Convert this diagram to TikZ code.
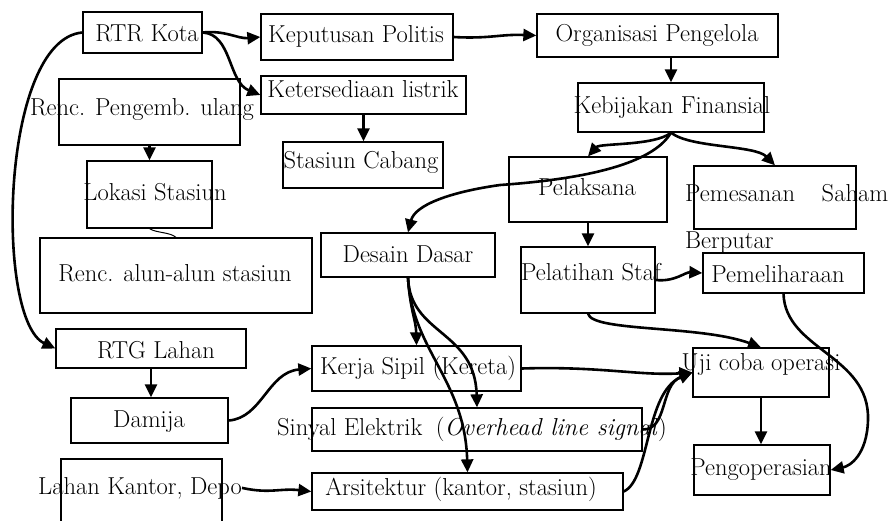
\documentclass[tikz,border=0pt]{standalone}
\usetikzlibrary{arrows.meta,fit}
\begin{document}
\begin{tikzpicture}[x=1pt,y=-1pt,
  box/.style={draw, line width=1.3pt, inner sep=0pt},
  txt/.style={inner sep=0pt, anchor=base, font=\fontsize{24.5}{29}\selectfont},
  arr/.style={line width=2.6pt, -{Triangle[length=13pt,width=12pt]}},
  link/.style={line width=1pt}]
\useasboundingbox (0,0) rectangle (888,520);
\clip (0,0) rectangle (888,520);

% boxes
\node[box, fit={(83,12) (202,53)}] (rtr) {};
\node[box, fit={(261,14) (453,60)}] (kep) {};
\node[box, fit={(537,14) (778,57)}] (org) {};
\node[box, fit={(261,76) (466,114)}] (ket) {};
\node[box, fit={(59,79) (240,145)}] (renc) {};
\node[box, fit={(283,142) (443,188)}] (cab) {};
\node[box, fit={(87,161) (212,228)}] (lok) {};
\node[box, fit={(40,238) (312,313)}] (alun) {};
\node[box, fit={(56,329) (246,368)}] (rtg) {};
\node[box, fit={(71,398) (228,443)}] (dam) {};
\node[box, fit={(61,459) (222,540)}] (lk) {};
\node[box, fit={(578,83) (764,132)}] (keb) {};
\node[box, fit={(509,157) (667,222)}] (pel) {};
\node[box, fit={(694,166) (856,229)}] (sah) {};
\node[box, fit={(321,233) (495,277)}] (ds) {};
\node[box, fit={(521,247) (655,313)}] (stf) {};
\node[box, fit={(703,253) (864,293)}] (pml) {};
\node[box, fit={(312,346) (521,391)}] (ks) {};
\node[box, fit={(312,408) (642,451)}] (sin) {};
\node[box, fit={(312,473) (623,510)}] (ars) {};
\node[box, fit={(693,348) (829,397)}] (uji) {};
\node[box, fit={(694,445) (830,495)}] (ops) {};

% labels (positioned by baseline)
\node[txt] (rtr-t) at (147,41) {RTR Kota};
\node[txt] (kep-t) at (356,42) {Keputusan Politis};
\node[txt] (org-t) at (657,41) {Organisasi Pengelola};
\node[txt] (ket-t) at (363,97) {Ketersediaan listrik};
\node[txt] (renc-t) at (142,115) {Renc. Pengemb. ulang};
\node[txt] (cab-t) at (361,168) {Stasiun Cabang};
\node[txt] (lok-t) at (155,200) {Lokasi Stasiun};
\node[txt] (alun-t) at (175,281) {Renc. alun-alun stasiun};
\node[txt] (rtg-t) at (156,358) {RTG Lahan};
\node[txt] (dam-t) at (149,427) {Damija};
\node[txt] (lk-t) at (140,494) {Lahan Kantor, Depo};
\node[txt] (keb-t) at (672,113) {Kebijakan Finansial};
\node[txt] (pel-t) at (587,195) {Pelaksana};
\node[txt, anchor=base west] (sah-t1) at (685,201) {\makebox[203pt][s]{Pemesanan Saham}};
\node[txt, anchor=base west] (sah-t2) at (685,248) {Berputar};
\node[txt] (ds-t) at (408,262) {Desain Dasar};
\node[txt] (stf-t) at (591,280) {Pelatihan Staf};
\node[txt] (pml-t) at (778,282) {Pemeliharaan};
\node[txt] (ks-t) at (418,374) {Kerja Sipil (Kereta)};
\node[txt] (sin-t) at (472,435) {Sinyal Elektrik\hspace{0.55em}(\textit{Overhead line signal})};
\node[txt] (ars-t) at (461,495) {Arsitektur (kantor, stasiun)};
\node[txt] (uji-t) at (761,370) {Uji coba operasi};
\node[txt] (ops-t) at (761,475) {Pengoperasian};

% connectors
\draw[arr] (rtr.east) .. controls (225,30) and (238,39) .. (kep.west);
\draw[arr] (rtr.east) .. controls (232,34) and (228,82) .. (ket.west);
\draw[arr] (rtr.west) .. controls (0,40) and (-5,320) .. (rtg.west);
\draw[arr] (kep.east) .. controls (490,39) and (500,34) .. (org.west);
\draw[arr] (keb.north |- org.south) -- (keb.north);
\draw[arr] (ket.south) -- (ket.south |- cab.north);
\draw[arr] (renc.south) -- (lok.north);
\draw[link] (lok.south) .. controls (156,233) and (170,232) .. (alun.north);
\draw[arr] (rtg.south) -- (rtg.south |- dam.north);
\draw[arr] (dam.east) .. controls (262,418) and (268,372) .. (ks.west);
\draw[arr] (lk-t.east) .. controls (270,494) and (280,488) .. (ars.west);
\draw[arr] (keb.south) .. controls (655,146) and (600,143) .. (pel.north);
\draw[arr] (keb.south) .. controls (690,148) and (755,145) .. (sah.north);
\draw[arr] (keb.south) .. controls (655,160) and (600,178) .. (500,185)
  .. controls (450,192) and (415,205) .. (ds.north);
\draw[arr] (pel.south) -- (stf.north);
\draw[arr] (stf.east) .. controls (675,282) and (685,272) .. (pml.west);
\draw[arr] (stf.south) .. controls (592,332) and (700,325) .. (uji.north);
\draw[arr] (ds.south) .. controls (410,310) and (416,320) .. (ks.north);
\draw[arr] (ds.south) .. controls (410,335) and (475,330) .. (sin.north);
\draw[arr] (ds.south) .. controls (412,350) and (465,380) .. (ars.north);
\draw[arr] (ks.east) .. controls (600,366) and (640,376) .. (uji.west);
\draw[arr] (sin.east) .. controls (668,430) and (660,385) .. (uji.west);
\draw[arr] (ars.east) .. controls (650,480) and (645,392) .. (uji.west);
\draw[arr] (uji.south) -- (uji.south |- ops.north);
\draw[arr] (pml.south) .. controls (785,350) and (870,355) .. (868,420)
  .. controls (867,455) and (850,466) .. (ops.east);
\end{tikzpicture}
\end{document}
